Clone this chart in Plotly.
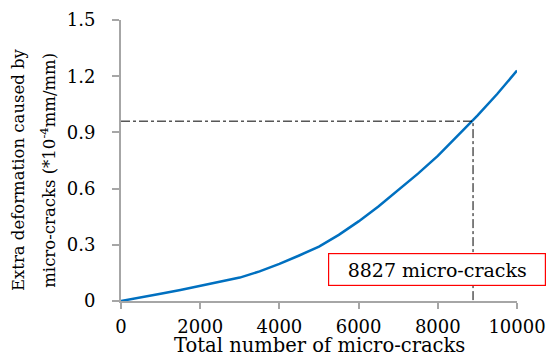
import plotly.graph_objects as go

# Data
cracks = [0, 500, 1000, 1500, 2000, 2500, 3000, 3500, 4000, 4500, 5000, 5500, 6000,
          6500, 7000, 7500, 8000, 8500, 9000, 9500, 10000]
deformation = [0, 0.018, 0.039, 0.059, 0.08, 0.101, 0.125, 0.158, 0.198, 0.243, 0.29, 0.353, 0.425,
               0.505, 0.59, 0.68, 0.775, 0.88, 0.99, 1.105, 1.23]
marker_x = 8890
marker_y = 0.96
label_text = "8827 micro-cracks"
y_ticks = [0, 0.3, 0.6, 0.9, 1.2, 1.5]
y_tick_text = ["0", "0.3", "0.6", "0.9", "1.2", "1.5"]
x_ticks = [0, 2000, 4000, 6000, 8000, 10000]
x_tick_text = ["0", "2000", "4000", "6000", "8000", "10000"]
x_title = "Total number of micro-cracks"
y_title_lines = ["Extra deformation caused by", "micro-cracks (*10<sup>-4</sup>mm/mm)"]

FONT = "DejaVu Serif"
AX = "#a6a6a6"

fig = go.Figure()
fig.add_trace(go.Scatter(x=cracks, y=deformation, mode="lines",
                         line=dict(color="#0070C0", width=2.5, shape="linear"),
                         showlegend=False, hoverinfo="skip"))
fig.add_trace(go.Scatter(x=[0, marker_x, marker_x], y=[marker_y, marker_y, 0], mode="lines",
                         line=dict(color="black", width=1, dash="dashdot"),
                         showlegend=False, hoverinfo="skip"))

fig.add_annotation(xref="paper", yref="paper", x=0.797, y=0.113,
                   xanchor="center", yanchor="middle",
                   text=label_text, showarrow=False,
                   font=dict(family=FONT, size=19, color="black"),
                   bgcolor="white", bordercolor="#ff0000", borderwidth=1.2,
                   width=212, height=27, borderpad=2)

# axis titles
fig.add_annotation(xref="paper", yref="paper", x=0.5, y=-0.158,
                   xanchor="center", yanchor="middle", showarrow=False,
                   text=x_title, font=dict(family=FONT, size=19.5, color="black"))
for xp, line in zip([-0.26, -0.185], y_title_lines):
    fig.add_annotation(xref="paper", yref="paper", x=xp, y=0.466,
                       xanchor="center", yanchor="middle", showarrow=False, textangle=-90,
                       text=line, font=dict(family=FONT, size=16.5, color="black"))

fig.update_layout(
    width=548, height=356,
    margin=dict(l=121, r=31, t=20, b=55, autoexpand=False),
    paper_bgcolor="white", plot_bgcolor="white",
    font=dict(family=FONT, size=18, color="black"),
    xaxis=dict(range=[0, 10000], tickvals=x_ticks, ticktext=x_tick_text,
               ticks="outside", ticklen=6, automargin=False,
               tickcolor=AX, tickwidth=1.5, showline=True, linecolor=AX, linewidth=2,
               showgrid=False, zeroline=False, ticklabelstandoff=2,
               tickfont=dict(family=FONT, size=18)),
    yaxis=dict(range=[0, 1.5], tickvals=y_ticks, ticktext=y_tick_text,
               ticks="outside", ticklen=7, tickcolor=AX, tickwidth=1.5, automargin=False,
               showline=True, linecolor=AX, linewidth=2,
               showgrid=False, zeroline=False, ticklabelstandoff=13,
               tickfont=dict(family=FONT, size=18)),
)

fig.write_html("out.html", config={"displayModeBar": False},
               post_script="document.body.style.margin='0';")
